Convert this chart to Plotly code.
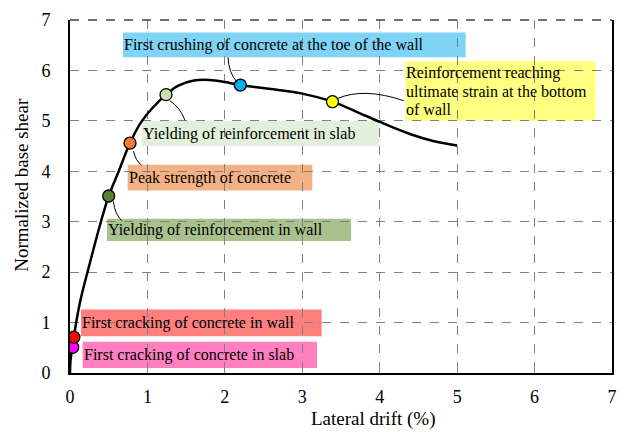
import plotly.graph_objects as go

# Pushover curve: lateral drift (%) vs normalized base shear
drift = [0.0, 0.01, 0.035, 0.05, 0.13, 0.26, 0.39, 0.50, 0.624, 0.775, 0.93, 1.24,
         1.40, 1.60, 1.80, 2.0, 2.2, 2.6, 2.97, 3.39, 3.7, 4.0, 4.39, 4.69, 5.0]
shear = [0.0, 0.3, 0.51, 0.71, 1.41, 2.20, 2.95, 3.51, 3.98, 4.56, 5.00, 5.52,
         5.70, 5.80, 5.81, 5.77, 5.71, 5.63, 5.55, 5.38, 5.18, 4.98, 4.74, 4.60, 4.51]

# Damage states marked on the curve
event_names = [
    "First cracking of concrete in slab",
    "First cracking of concrete in wall",
    "Yielding of reinforcement in wall",
    "Peak strength of concrete",
    "Yielding of reinforcement in slab",
    "First crushing of concrete at the toe of the wall",
    "Reinforcement reaching ultimate strain at the bottom of wall",
]
event_drift = [0.035, 0.05, 0.50, 0.775, 1.24, 2.2, 3.39]
event_shear = [0.51, 0.71, 3.51, 4.56, 5.52, 5.71, 5.38]

x_ticks = [0, 1, 2, 3, 4, 5, 6, 7]
y_ticks = [0, 1, 2, 3, 4, 5, 6, 7]

# Styling for each damage state
marker_colors = ["#FF00FF", "#FF0000", "#548235", "#ED7D31", "#C5E0B4", "#00B0F0", "#FFFF00"]
box_colors = ["#FF7FBF", "#FF7F7F", "#A9C08F", "#F4B183", "#E2EFDA", "#7FD3F5", "#FFFF80"]
# label lines
label_lines = [
    ["First cracking of concrete in slab"],
    ["First cracking of concrete in wall"],
    ["Yielding of reinforcement in wall"],
    ["Peak strength of concrete"],
    ["Yielding of reinforcement in slab"],
    ["First crushing of concrete at the toe of the wall"],
    ["Reinforcement reaching", "ultimate strain at the bottom", "of wall"],
]
# label boxes (x0, x1, y_bottom, y_top) in axis units
label_boxes = [
    (0.164, 3.19, 0.10, 0.62),
    (0.142, 3.25, 0.73, 1.26),
    (0.478, 3.63, 2.62, 3.06),
    (0.745, 3.13, 3.62, 4.13),
    (0.926, 3.99, 4.50, 4.995),
    (0.685, 5.11, 6.26, 6.75),
    (4.33, 6.79, 5.00, 6.18),
]
# leader curves from marker to label (start, control, end)
leaders = [
    None,
    None,
    ((0.56, 3.40), (0.58, 3.15), (0.668, 3.02)),
    ((0.82, 4.40), (0.85, 4.20), (0.926, 4.12)),
    ((1.29, 5.40), (1.42, 5.27), (1.486, 5.01)),
    ((2.04, 6.26), (2.05, 5.95), (2.16, 5.76)),
    ((3.45, 5.44), (3.79, 5.67), (4.31, 5.40)),
]

FONT = "Liberation Serif"

fig = go.Figure()

fig.add_trace(go.Scatter(
    x=drift, y=shear, mode="lines",
    line=dict(color="black", width=2.5, shape="spline", smoothing=1.0),
    hoverinfo="skip", showlegend=False,
))

fig.add_trace(go.Scatter(
    x=event_drift, y=event_shear, mode="markers",
    marker=dict(size=12, color=marker_colors, line=dict(color="black", width=1.3)),
    text=event_names, hoverinfo="text", showlegend=False,
))

shapes = []
annotations = []
for lines, (x0, x1, y0, y1), color, lead in zip(label_lines, label_boxes, box_colors, leaders):
    shapes.append(dict(type="rect", xref="x", yref="y", x0=x0, x1=x1, y0=y0, y1=y1,
                       fillcolor=color, line=dict(width=0), layer="below"))
    yc = (y0 + y1) / 2
    n = len(lines)
    for i, t in enumerate(lines):
        annotations.append(dict(
            x=x0, y=yc, xref="x", yref="y", text=t, showarrow=False,
            xanchor="left", yanchor="middle", align="left",
            yshift=((n - 1) / 2 - i) * 18, xshift=-1,
            font=dict(family=FONT, size=16, color="black"),
        ))
    if lead is not None:
        (sx, sy), (cx, cy), (ex, ey) = lead
        shapes.append(dict(type="path", xref="x", yref="y",
                           path=f"M {sx},{sy} Q {cx},{cy} {ex},{ey}",
                           line=dict(color="black", width=1)))

# dashed top frame
shapes.append(dict(type="line", xref="paper", yref="paper", x0=0, x1=1, y0=1, y1=1,
                   line=dict(color="#404040", width=1.5, dash="dash")))

# axis titles
annotations.append(dict(text="Lateral drift (%)", xref="paper", yref="paper",
                        x=0.559, y=-0.129, showarrow=False,
                        xanchor="center", yanchor="middle",
                        font=dict(family=FONT, size=19, color="black")))
annotations.append(dict(text="Normalized base shear", xref="paper", yref="paper",
                        x=-0.090, y=0.534, showarrow=False, textangle=-90,
                        xanchor="center", yanchor="middle",
                        font=dict(family=FONT, size=19, color="black")))

axis_common = dict(
    showgrid=True, gridcolor="#808080", gridwidth=1, griddash="dash",
    zeroline=False, showline=True, linecolor="black", linewidth=2,
    ticks="inside", ticklen=3, tickcolor="#808080", tickwidth=1,
    tickfont=dict(family=FONT, size=18, color="black"),
)

fig.update_layout(
    width=627, height=432,
    margin=dict(l=70, r=15, t=10, b=59),
    paper_bgcolor="white", plot_bgcolor="white",
    shapes=shapes, annotations=annotations,
    xaxis=dict(range=[0, 7], tickvals=x_ticks, mirror=False, ticklabelstandoff=6,
               **axis_common),
    yaxis=dict(range=[0, 7], tickvals=y_ticks, mirror=True, ticklabelstandoff=14,
               **axis_common),
)

fig.write_html("out.html")
